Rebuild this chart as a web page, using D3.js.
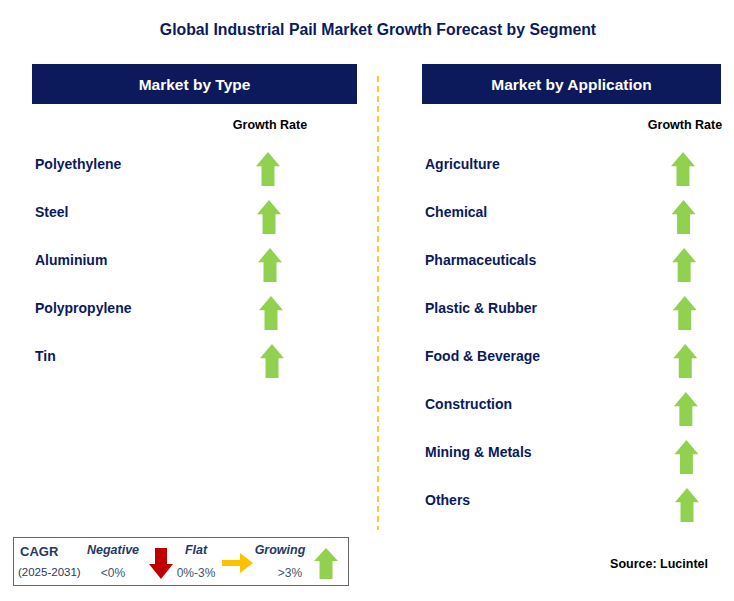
<!DOCTYPE html><html><head><script src="https://cdn.jsdelivr.net/npm/d3@7"></script>
<style>body{margin:0;background:#fff}</style></head><body><svg id="c" width="734" height="601"></svg>
<script>
const typeCats=["Polyethylene","Steel","Aluminium","Polypropylene","Tin"];
const appCats=["Agriculture","Chemical","Pharmaceuticals","Plastic & Rubber","Food & Beverage","Construction","Mining & Metals","Others"];
const typeTrend=["up","up","up","up","up"];
const appTrend=["up","up","up","up","up","up","up","up"];
const svg=d3.select("#c");
const F="'Liberation Sans', Arial, sans-serif";
const navy="#0c1a5c", green="#92d050";
svg.append("text").attr("x",378).attr("y",35).attr("text-anchor","middle").attr("font-family",F).attr("font-weight","bold").attr("font-size",15.8).attr("fill","#0c1a5c").text("Global Industrial Pail Market Growth Forecast by Segment");
svg.append("line").attr("x1",378).attr("x2",378).attr("y1",76).attr("y2",530).attr("stroke","#f5b800").attr("stroke-width",1.5).attr("stroke-dasharray","6,4");
function arrowUp(g,cx,top,w,h,col){
  const hw=w/2, sw=w*0.27, hh=h*0.42;
  g.append("path").attr("d",`M${cx},${top} L${cx+hw},${top+hh} L${cx+sw},${top+hh} L${cx+sw},${top+h} L${cx-sw},${top+h} L${cx-sw},${top+hh} L${cx-hw},${top+hh} Z`).attr("fill",col);
}
function panel(x0,x1,title,cats,trend,ax0,ax1){
  svg.append("rect").attr("x",x0).attr("y",64).attr("width",x1-x0).attr("height",40).attr("fill",navy);
  svg.append("text").attr("x",(x0+x1)/2).attr("y",90).attr("text-anchor","middle").attr("font-family",F).attr("font-weight","bold").attr("font-size",15.5).attr("fill","#fff").text(title);
  svg.append("text").attr("x",ax0+2).attr("y",129).attr("text-anchor","middle").attr("font-family",F).attr("font-weight","bold").attr("font-size",12.5).attr("fill","#000").text("Growth Rate");
  const y=d3.scalePoint().domain(cats).range([164,164+48*(cats.length-1)]);
  const ax=d3.scaleLinear().domain([0,cats.length-1]).range([ax0,ax1]);
  cats.forEach((c,i)=>{
    svg.append("text").attr("x",x0+3).attr("y",y(c)+5).attr("font-family",F).attr("font-weight","bold").attr("font-size",14).attr("fill","#0c1a5c").text(c);
    if(trend[i]==="up") arrowUp(svg,ax(i),y(c)-12,24,34,green);
  });
}
panel(32,357,"Market by Type",typeCats,typeTrend,268,272);
panel(422,721,"Market by Application",appCats,appTrend,683,687);
const L=svg.append("g");
L.append("rect").attr("x",13.5).attr("y",537.5).attr("width",335).attr("height",48).attr("fill","#fff").attr("stroke","#666");
const lt=(x,y,t,o)=>L.append("text").attr("x",x).attr("y",y).attr("font-family",F).attr("font-size",o.s||13).attr("font-weight",o.b?"bold":"normal").attr("font-style",o.i?"italic":"normal").attr("fill",o.c||"#1f3864").attr("text-anchor",o.a||"start").text(t);
lt(20,556,"CAGR",{b:1,s:13});
lt(18,576,"(2025-2031)",{s:11.5});
lt(113,554,"Negative",{b:1,i:1,s:12.5,a:"middle"});
lt(113,577,"<0%",{s:12,a:"middle",c:"#44546a"});
lt(196,554,"Flat",{b:1,i:1,s:12.5,a:"middle"});
lt(196,577,"0%-3%",{s:12,a:"middle",c:"#44546a"});
lt(280,554,"Growing",{b:1,i:1,s:12.5,a:"middle"});
lt(290,577,">3%",{s:12,a:"middle",c:"#44546a"});
L.append("path").attr("d","M155,548 L167,548 L167,564 L173,564 L161,579 L149,564 L155,564 Z").attr("fill","#c00000");
L.append("path").attr("d","M222,560 L240,560 L240,553 L253,563 L240,573 L240,566 L222,566 Z").attr("fill","#ffc000");
arrowUp(L,326,548,24,31,green);
svg.append("text").attr("x",708).attr("y",568).attr("text-anchor","end").attr("font-family",F).attr("font-weight","bold").attr("font-size",12.5).attr("fill","#000").text("Source: Lucintel");
</script></body></html>
